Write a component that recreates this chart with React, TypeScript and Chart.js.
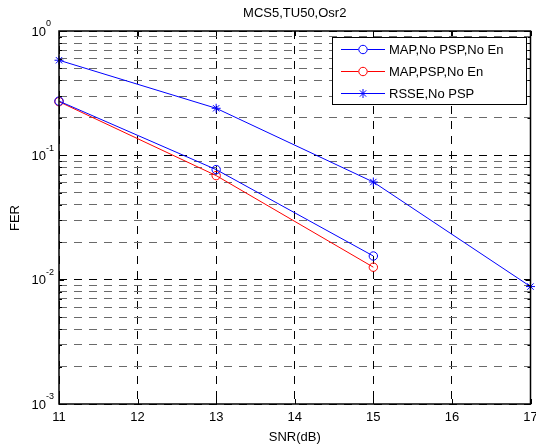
import React, { useEffect, useRef } from 'react';
import { Chart, registerables } from 'chart.js';

Chart.register(...registerables);

// ---- data ----
const snrValues = [11, 13, 15, 17];
const mapNoPspNoEn = [0.273, 0.0768, 0.0155];
const mapPspNoEn = [0.27, 0.0687, 0.0126];
const rsseNoPsp = [0.582, 0.239, 0.061, 0.0088];
const seriesNames = ['MAP,No PSP,No En', 'MAP,PSP,No En', 'RSSE,No PSP'];
const xTickValues = [11, 12, 13, 14, 15, 16, 17];
const yDecadeExponents = [-3, -2, -1, 0];
const yMinorMultipliers = [1, 2, 3, 4, 5, 6, 7, 8, 9];
const chartTitle = 'MCS5,TU50,Osr2';
const xAxisTitle = 'SNR(dB)';
const yAxisTitle = 'FER';

const FONT = '"Liberation Sans", Arial, Helvetica, sans-serif';

const yGridValues: number[] = [];
yDecadeExponents.forEach((e) => {
  yMinorMultipliers.forEach((m) => {
    const v = m * Math.pow(10, e);
    if (v <= 1.0000001) yGridValues.push(v);
  });
});

const isMajor = (v: number) => {
  const l = Math.log10(v);
  return Math.abs(l - Math.round(l)) < 1e-6;
};

const toPoints = (ys: number[]) => ys.map((y, i) => ({ x: snrValues[i], y }));

const decorPlugin = {
  id: 'matlabDecor',
  afterDraw(chart: any) {
    const ctx = chart.ctx as CanvasRenderingContext2D;
    const area = chart.chartArea;
    const xs = chart.scales.x;
    const ys = chart.scales.y;
    ctx.save();

    // inward tick marks
    ctx.strokeStyle = '#000';
    ctx.lineWidth = 1;
    ctx.setLineDash([]);
    ctx.beginPath();
    xTickValues.forEach((v) => {
      const px = Math.round(xs.getPixelForValue(v)) + 0.5;
      ctx.moveTo(px, area.bottom);
      ctx.lineTo(px, area.bottom - 5);
      ctx.moveTo(px, area.top);
      ctx.lineTo(px, area.top + 5);
    });
    yGridValues.forEach((v) => {
      const py = Math.round(ys.getPixelForValue(v)) + 0.5;
      const len = isMajor(v) ? 5 : 3;
      ctx.moveTo(area.left, py);
      ctx.lineTo(area.left + len, py);
      ctx.moveTo(area.right, py);
      ctx.lineTo(area.right - len, py);
    });
    ctx.stroke();

    // axes box
    ctx.lineWidth = 1.5;
    ctx.strokeRect(area.left, area.top, area.right - area.left, area.bottom - area.top);

    // x tick labels
    ctx.fillStyle = '#000';
    ctx.font = `13px ${FONT}`;
    ctx.textAlign = 'center';
    ctx.textBaseline = 'middle';
    xTickValues.forEach((v) => {
      ctx.fillText(String(v), xs.getPixelForValue(v), area.bottom + 13);
    });

    // y tick labels 10^n
    yDecadeExponents.forEach((e) => {
      const py = ys.getPixelForValue(Math.pow(10, e));
      ctx.font = `13px ${FONT}`;
      ctx.textAlign = 'right';
      ctx.textBaseline = 'middle';
      ctx.fillText('10', 46, py + 1);
      ctx.font = `9px ${FONT}`;
      ctx.textAlign = 'left';
      ctx.fillText(String(e), 46, py - 7);
    });

    // title and axis titles
    ctx.font = `13px ${FONT}`;
    ctx.textAlign = 'center';
    ctx.textBaseline = 'middle';
    const cx = (area.left + area.right) / 2;
    ctx.fillText(chartTitle, cx, 13);
    ctx.fillText(xAxisTitle, cx, 437);
    ctx.save();
    ctx.translate(15, 218);
    ctx.rotate(-Math.PI / 2);
    ctx.fillText(yAxisTitle, 0, 0);
    ctx.restore();

    // legend
    const lx = 332, ly = 37, lw = 194, lh = 67;
    ctx.fillStyle = '#fff';
    ctx.fillRect(lx, ly, lw, lh);
    ctx.strokeStyle = '#000';
    ctx.lineWidth = 1;
    ctx.strokeRect(lx + 0.5, ly + 0.5, lw, lh);
    const rowY = [49.5, 71.5, 93.5];
    chart.data.datasets.forEach((ds: any, i: number) => {
      const y = rowY[i];
      const mx = 363;
      ctx.strokeStyle = ds.borderColor;
      ctx.lineWidth = 1;
      ctx.beginPath();
      if (ds.pointStyle === 'circle') {
        ctx.moveTo(341, y);
        ctx.lineTo(mx - 4.5, y);
        ctx.moveTo(mx + 4.5, y);
        ctx.lineTo(385, y);
      } else {
        ctx.moveTo(341, y);
        ctx.lineTo(385, y);
      }
      ctx.stroke();
      ctx.beginPath();
      if (ds.pointStyle === 'circle') {
        ctx.arc(mx, y, 4.2, 0, Math.PI * 2);
      } else {
        const r = 4.5;
        ctx.moveTo(mx - r, y); ctx.lineTo(mx + r, y);
        ctx.moveTo(mx, y - r); ctx.lineTo(mx, y + r);
        const d = r * Math.SQRT1_2;
        ctx.moveTo(mx - d, y - d); ctx.lineTo(mx + d, y + d);
        ctx.moveTo(mx - d, y + d); ctx.lineTo(mx + d, y - d);
      }
      ctx.stroke();
      ctx.fillStyle = '#000';
      ctx.font = `13px ${FONT}`;
      ctx.textAlign = 'left';
      ctx.textBaseline = 'middle';
      ctx.fillText(seriesNames[i], 389, y + 0.5);
    });

    ctx.restore();
  },
};

export default function App() {
  const canvasRef = useRef<HTMLCanvasElement | null>(null);

  useEffect(() => {
    if (!canvasRef.current) return;
    const chart = new Chart(canvasRef.current, {
      type: 'line',
      data: {
        datasets: [
          {
            label: seriesNames[0],
            data: toPoints(mapNoPspNoEn),
            borderColor: '#0000ff',
            backgroundColor: 'rgba(0,0,0,0)',
            borderWidth: 1,
            pointStyle: 'circle',
            pointRadius: 4.2,
            pointBorderWidth: 1,
            pointBorderColor: '#0000ff',
            pointBackgroundColor: 'rgba(0,0,0,0)',
            tension: 0,
          },
          {
            label: seriesNames[1],
            data: toPoints(mapPspNoEn),
            borderColor: '#ff0000',
            backgroundColor: 'rgba(0,0,0,0)',
            borderWidth: 1,
            pointStyle: 'circle',
            pointRadius: 4.2,
            pointBorderWidth: 1,
            pointBorderColor: '#ff0000',
            pointBackgroundColor: 'rgba(0,0,0,0)',
            tension: 0,
          },
          {
            label: seriesNames[2],
            data: toPoints(rsseNoPsp),
            borderColor: '#0000ff',
            backgroundColor: 'rgba(0,0,0,0)',
            borderWidth: 1,
            pointStyle: 'star',
            pointRadius: 4.5,
            pointBorderWidth: 1,
            pointBorderColor: '#0000ff',
            pointBackgroundColor: 'rgba(0,0,0,0)',
            tension: 0,
          },
        ],
      },
      options: {
        responsive: false,
        animation: false,
        events: [],
        clip: false,
        layout: { padding: { left: 59, top: 31, right: 4, bottom: 43 } },
        plugins: {
          legend: { display: false },
          title: { display: false },
          tooltip: { enabled: false },
        },
        scales: {
          x: {
            type: 'linear',
            min: 11,
            max: 17,
            afterBuildTicks: (scale: any) => {
              scale.ticks = xTickValues.map((v) => ({ value: v }));
            },
            ticks: { display: false },
            grid: { color: '#000', lineWidth: 1, drawTicks: false },
            border: { display: false, dash: [8, 7] },
          },
          y: {
            type: 'logarithmic',
            min: 0.001,
            max: 1,
            afterBuildTicks: (scale: any) => {
              scale.ticks = yGridValues.map((v) => ({ value: v }));
            },
            ticks: { display: false },
            grid: {
              color: (c: any) => (isMajor(c.tick.value) ? '#000' : '#6a6a6a'),
              lineWidth: 1,
              drawTicks: false,
            },
            border: { display: false, dash: [8, 7] },
          },
        },
      },
      plugins: [decorPlugin],
    } as any);
    return () => chart.destroy();
  }, []);

  return (
    <div style={{ position: 'absolute', left: 0, top: 0, width: 536, height: 447, background: '#fff' }}>
      <canvas ref={canvasRef} width={536} height={447} style={{ display: 'block' }} />
    </div>
  );
}
